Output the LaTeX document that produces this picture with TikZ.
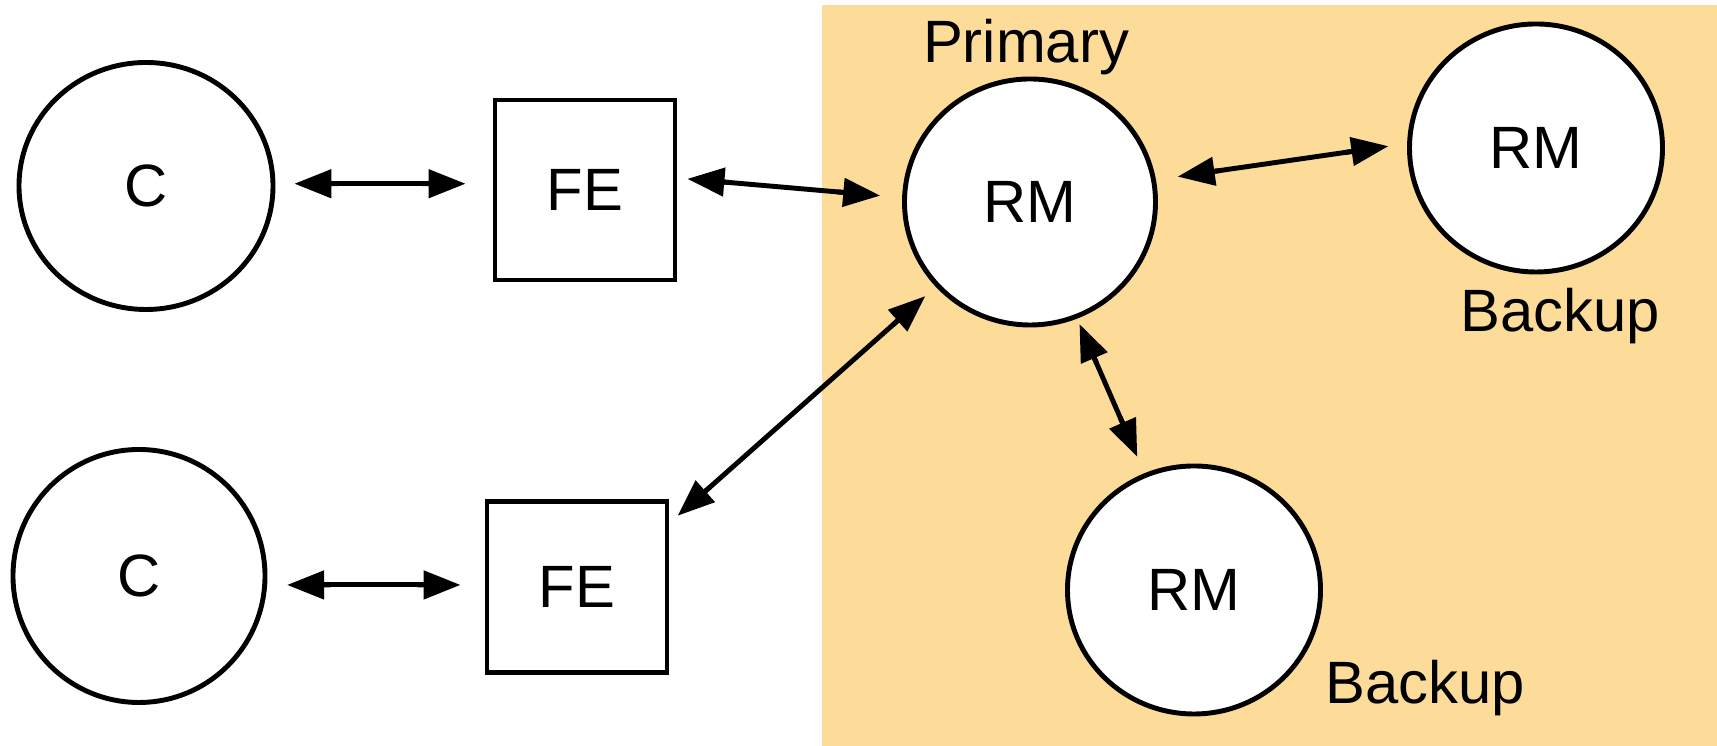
\documentclass[tikz,border=0pt]{standalone}
\usepackage{fontspec}
\setmainfont{Liberation Sans}
\usetikzlibrary{arrows.meta,shapes.geometric,positioning}
\definecolor{replicaorange}{RGB}{253,219,152}

\tikzset{
  labelfont/.style={font=\fontsize{17}{20}\selectfont},
  proc/.style={draw, ellipse, line width=1.4pt, inner sep=0pt, fill=white,
    minimum width=2.53cm, minimum height=2.48cm, labelfont},
  fe/.style={draw, rectangle, line width=1.4pt, inner sep=0pt, fill=white,
    minimum width=1.8cm, minimum height=1.8cm, labelfont},
  link/.style={line width=1.4pt,
    {Triangle[length=0.37cm,width=0.28cm,sep=0.06cm] Butt Cap[]}-{Butt Cap[] Triangle[length=0.37cm,width=0.28cm,sep=0.06cm]}},
}

\begin{document}
\begin{tikzpicture}
  \useasboundingbox (0,0) rectangle (17.17,-7.46);
  % replica managers area
  \fill[replicaorange] (8.22,-0.05) rectangle (17.17,-7.46);

  % clients and front ends
  \node[proc, minimum width=2.54cm, minimum height=2.47cm] (c1) at (1.46,-1.86) {C};
  \node[proc, minimum width=2.52cm, minimum height=2.53cm] (c2) at (1.39,-5.76) {C};
  \node[fe] (fe1) at (5.85,-1.90) {FE};
  \node[fe, minimum height=1.71cm] (fe2) at (5.77,-5.87) {FE};

  % replica managers
  \node[proc, minimum width=2.51cm, minimum height=2.46cm] (rm1) at (10.30,-2.02) {RM};
  \node[proc] (rm2) at (15.36,-1.48) {RM};
  \node[proc] (rm3) at (11.94,-5.90) {RM};

  \node[labelfont] (primary) at (10.26,-0.47) {Primary};
  \node[labelfont] (backup1) at (15.60,-3.16) {Backup};
  \node[labelfont] (backup2) at (14.25,-6.88) {Backup};

  % connections
  \draw[link, shorten <=0.13cm, shorten >=0.21cm] (c1.1) -- (c1.1 -| fe1.west);
  \draw[link, shorten <=0.14cm, shorten >=0.18cm] (c2.-4) -- (c2.-4 -| fe2.west);
  \draw[link, shorten <=0.04cm, shorten >=0.16cm] ([yshift=0.12cm]fe1.east) -- (rm1.178);
  \draw[link, shorten <=0.05cm, shorten >=0.08cm] ([yshift=-0.24cm]fe2.north east) -- (rm1.222);
  \draw[link, shorten <=0.16cm, shorten >=0.13cm] (rm1.10) -- (rm2.178);
  \draw[link, shorten >=0.12cm] (rm1.292) -- (rm3.113);
\end{tikzpicture}
\end{document}
